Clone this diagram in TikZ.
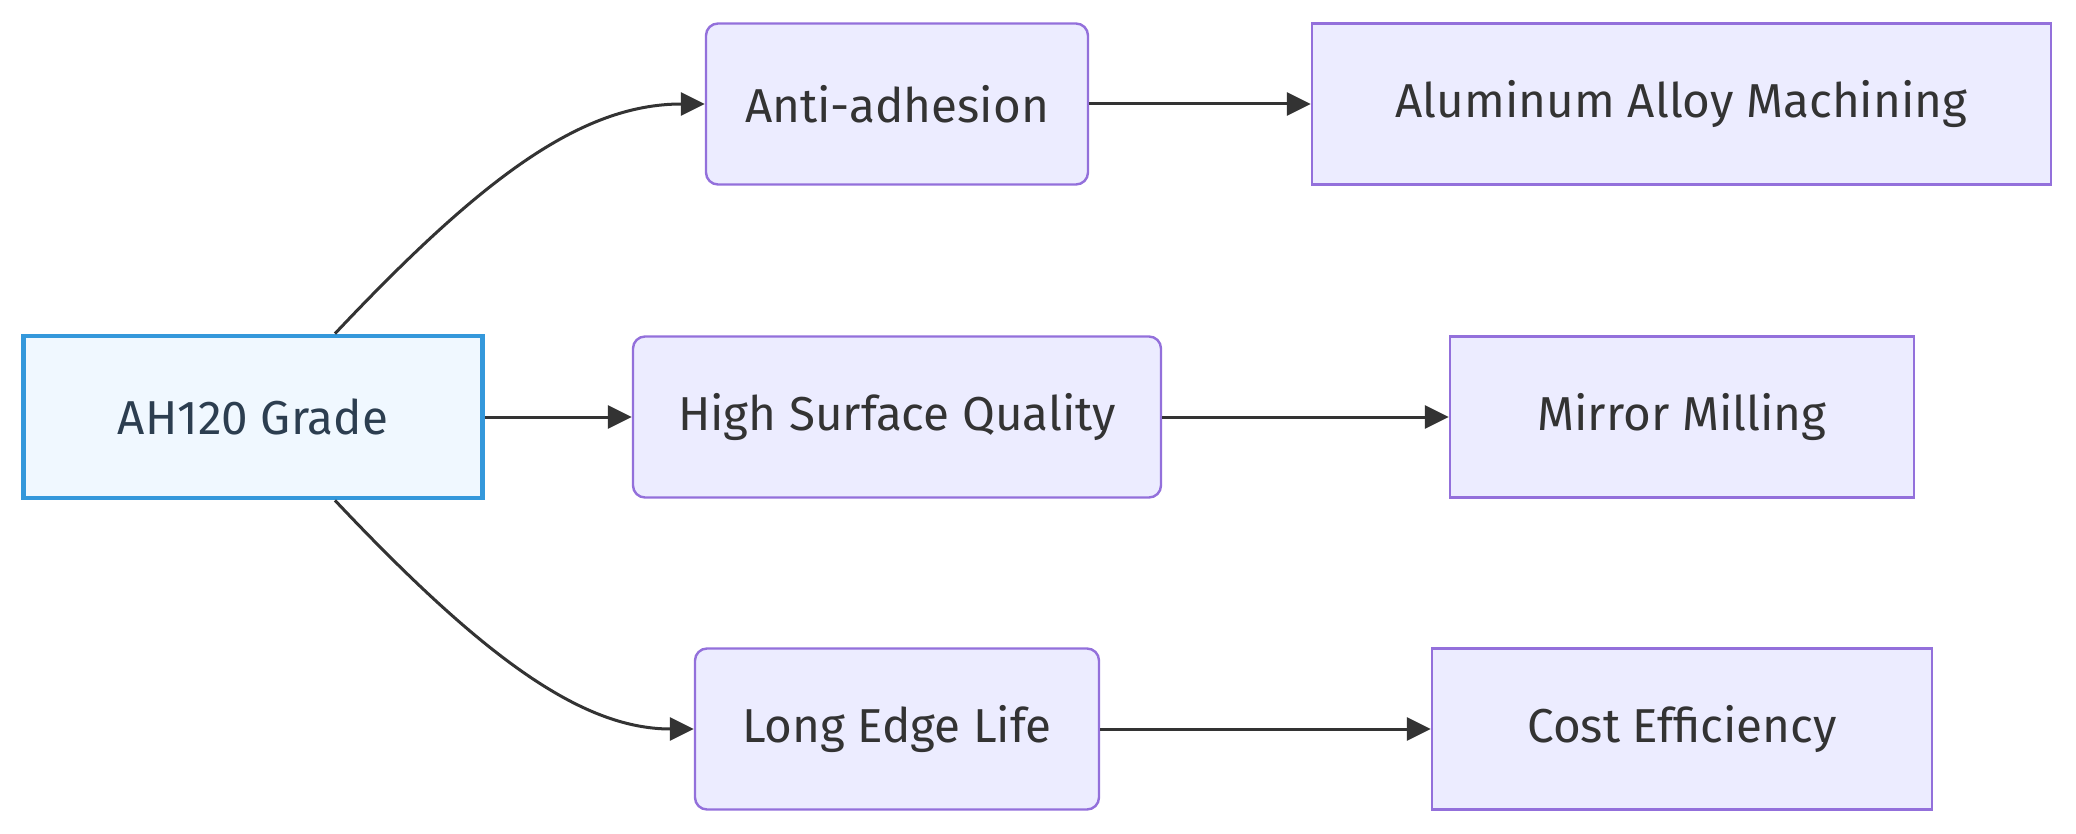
\documentclass[tikz,border=0pt]{standalone}
\usepackage{fontspec}
\setmainfont{Fira Sans}
\usetikzlibrary{arrows.meta, positioning}
\definecolor{mmfill}{HTML}{ECECFF}
\definecolor{mmline}{HTML}{9370DB}
\definecolor{mmtext}{HTML}{333333}
\definecolor{rootfill}{HTML}{F0F8FF}
\definecolor{rootline}{HTML}{3498DB}
\definecolor{roottext}{HTML}{2C3E50}

\begin{document}
\begin{tikzpicture}[x=0.5pt, y=-0.5pt,
    box/.style={draw=mmline, fill=mmfill, line width=1.2pt, text=mmtext,
                minimum height=80.5pt, font=\fontsize{23.8}{28}\selectfont},
    rbox/.style={box, rounded corners=6pt},
    root/.style={draw=rootline, fill=rootfill, line width=2.4pt, text=roottext,
                 minimum width=229.5pt, minimum height=81pt, font=\fontsize{23.8}{28}\selectfont},
    link/.style={-{Triangle[length=12pt, width=11.5pt]}, line width=1.5pt, draw=mmtext},
]
    \useasboundingbox (0,0) rectangle (2076,834);

    \node[root] (ah) at (253,417) {AH120 Grade};

    \node[rbox, minimum width=191pt] (anti) at (897,104) {Anti-adhesion};
    \node[rbox, minimum width=264pt] (hsq) at (897,417) {High Surface Quality};
    \node[rbox, minimum width=202pt] (edge) at (897,729) {Long Edge Life};

    \node[box, minimum width=369.5pt] (alu) at (1681.5,104) {Aluminum Alloy Machining};
    \node[box, minimum width=232pt] (mirror) at (1682,417) {Mirror Milling};
    \node[box, minimum width=250pt] (cost) at (1682,729) {Cost Efficiency};

    % curved branches
    \draw[link] ([xshift=41pt]ah.north) .. controls (480,180) and (580,104) .. (anti.west);
    \draw[link] ([xshift=41pt]ah.south) .. controls (480,654) and (580,729) .. (edge.west);
    \draw[link] (ah) -- (hsq);

    % outcomes
    \draw[link] (anti) -- (alu);
    \draw[link] (hsq) -- (mirror);
    \draw[link] (edge) -- (cost);
\end{tikzpicture}
\end{document}
